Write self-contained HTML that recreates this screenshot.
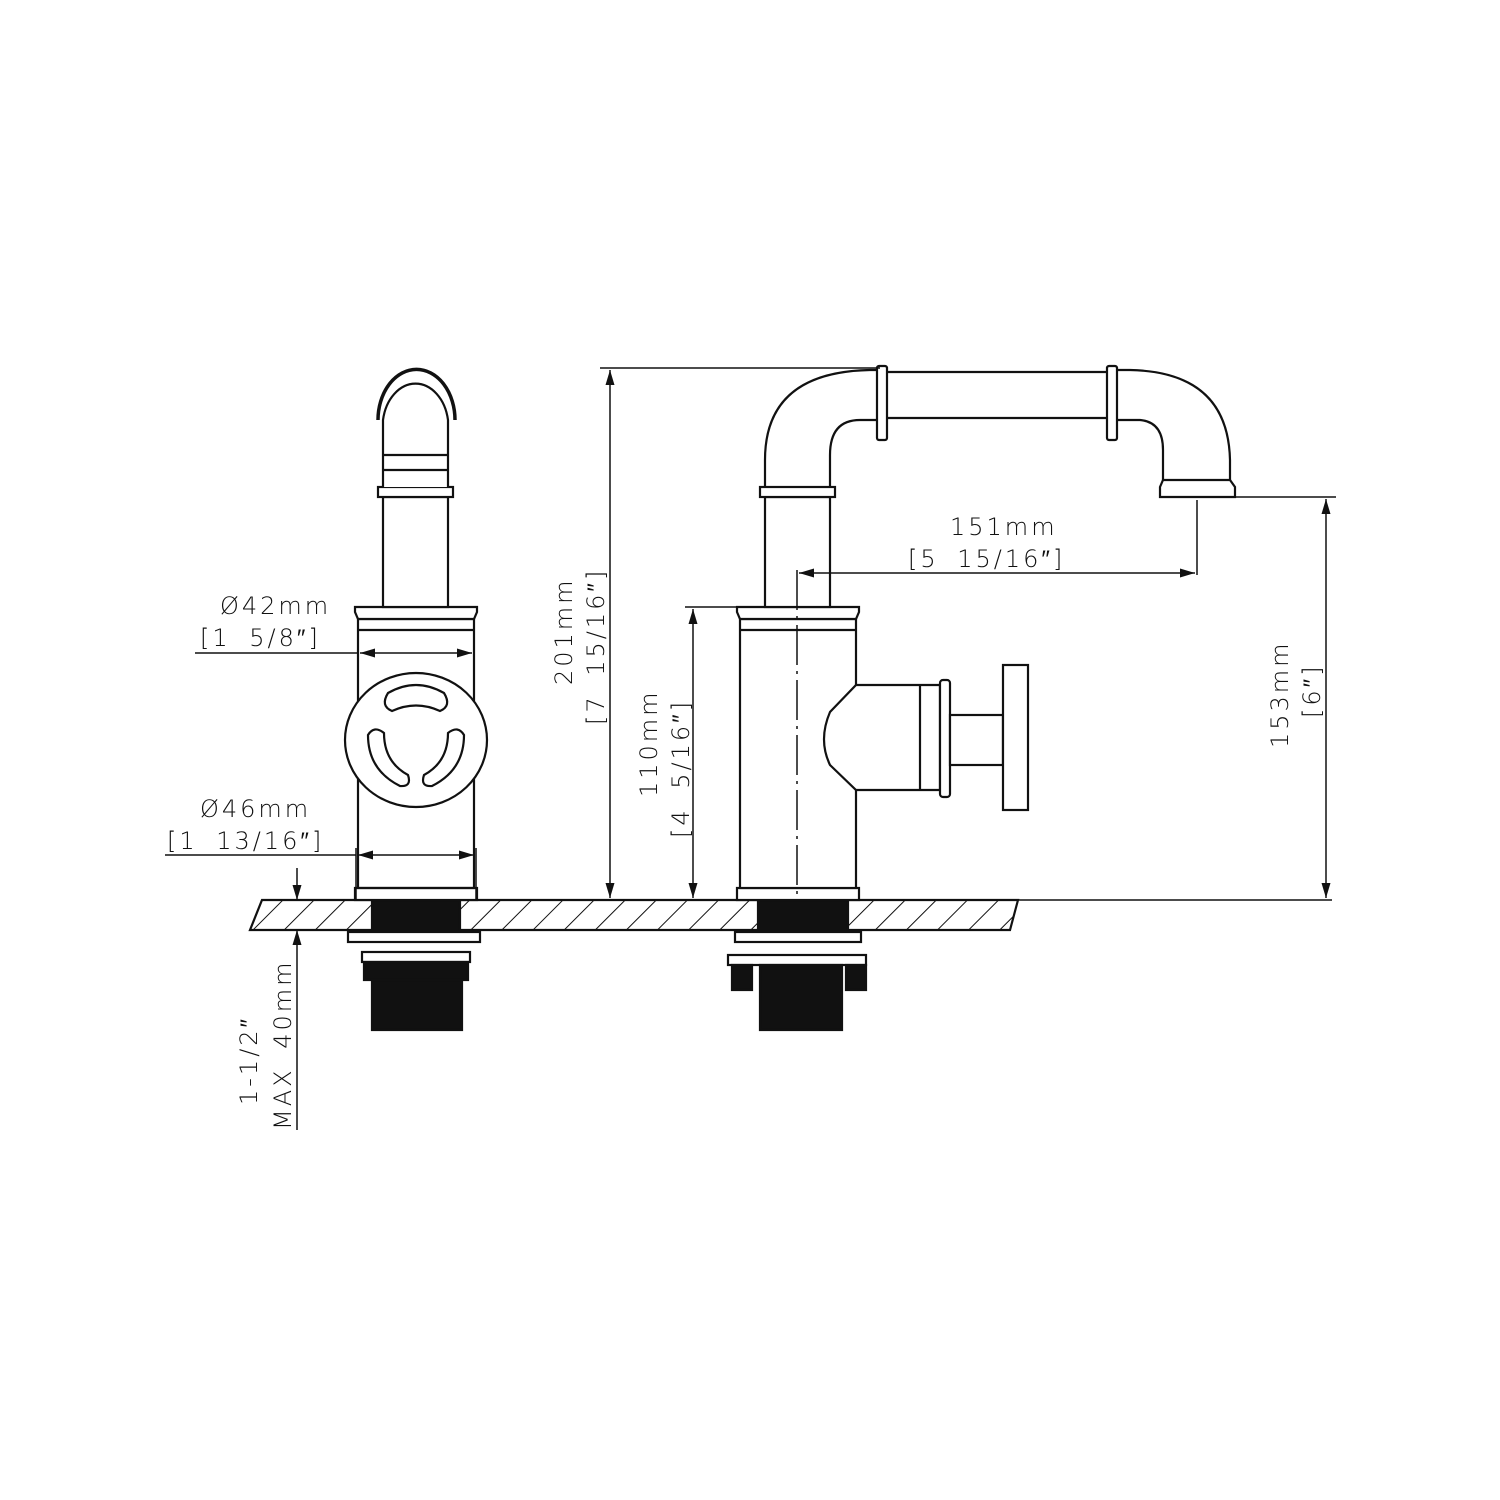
<!DOCTYPE html>
<html><head><meta charset="utf-8"><style>html,body{margin:0;padding:0;background:#fff}svg{display:block}text{font-family:"DejaVu Sans","Liberation Sans",sans-serif;font-size:24px;fill:#111;font-weight:300;white-space:pre}.w{letter-spacing:3px;word-spacing:8px}</style></head>
<body>
<svg width="1500" height="1500" viewBox="0 0 1500 1500" xmlns="http://www.w3.org/2000/svg">
<defs>
<pattern id="h" width="22" height="22" patternUnits="userSpaceOnUse" patternTransform="rotate(45)"><line x1="0" y1="0" x2="0" y2="22" stroke="#111" stroke-width="2"/></pattern>
<marker id="a" viewBox="0 0 10 6" refX="10" refY="3" markerWidth="10" markerHeight="6" orient="auto-start-reverse"><path d="M0,0L10,3L0,6z" fill="#111"/></marker>
</defs>
<g stroke="#111" stroke-width="2.2" fill="none">
<path d="M262,900 L1018,900 L1010,930 L250,930 Z" fill="url(#h)"/>
<line x1="1018" y1="900" x2="1332" y2="900" stroke-width="1.5"/>
<rect x="372" y="898" width="88" height="36" fill="#111"/>
<rect x="348" y="932" width="132" height="10" fill="#fff"/>
<rect x="362" y="952" width="108" height="10" fill="#fff"/>
<rect x="364" y="962" width="104" height="18" fill="#111"/>
<rect x="372" y="980" width="90" height="50" fill="#111"/>
<rect x="355" y="888" width="122" height="12" fill="#fff"/>
<rect x="358" y="619" width="116" height="269"/>
<path d="M355,607 L477,607 L477,612 L474,619 L358,619 L355,612 Z" fill="#fff"/>
<line x1="358" y1="630" x2="474" y2="630"/>
<rect x="383" y="497" width="65" height="110" fill="#fff"/>
<rect x="378" y="487" width="75" height="10" fill="#fff"/>
<path d="M383,487 L383,420 A33,44 0 0 1 448,420 L448,487" fill="#fff"/>
<path d="M378,420 A38,50 0 0 1 455,420" stroke-width="3.5"/>
<line x1="383" y1="455" x2="448" y2="455"/>
<line x1="383" y1="470" x2="448" y2="470"/>
<ellipse cx="416" cy="740" rx="71" ry="67" fill="#fff"/>
<path d="M388,693 Q416,677 444,693 Q452,706 440,711 Q416,700 392,711 Q380,706 388,693 Z"/>
<path d="M368,735 Q374,725 384,733 Q384,762 408,775 Q412,787 400,786 Q368,770 368,735 Z"/>
<path d="M464,735 Q458,725 448,733 Q448,762 424,775 Q420,787 432,786 Q464,770 464,735 Z"/>
<rect x="758" y="898" width="90" height="36" fill="#111"/>
<rect x="735" y="932" width="126" height="10" fill="#fff"/>
<rect x="728" y="955" width="138" height="10" fill="#fff"/>
<rect x="732" y="965" width="20" height="25" fill="#111"/>
<rect x="846" y="965" width="20" height="25" fill="#111"/>
<rect x="760" y="965" width="82" height="65" fill="#111"/>
<rect x="737" y="888" width="122" height="12" fill="#fff"/>
<rect x="740" y="619" width="116" height="269" fill="#fff"/>
<path d="M737,607 L859,607 L859,612 L856,619 L740,619 L737,612 Z" fill="#fff"/>
<line x1="740" y1="630" x2="856" y2="630"/>
<path d="M856,685 L940,685 L940,790 L856,790 L830,765 Q818,740 830,712 Z" fill="#fff"/>
<line x1="920" y1="685" x2="920" y2="790"/>
<rect x="940" y="680" width="10" height="117" rx="3" fill="#fff"/>
<rect x="950" y="715" width="53" height="50" fill="#fff"/>
<rect x="1003" y="665" width="25" height="145" fill="#fff"/>
<rect x="765" y="497" width="65" height="110" fill="#fff"/>
<rect x="760" y="487" width="75" height="10" fill="#fff"/>
<path d="M765,487 L765,460 Q765,372 870,370 L877,370 M830,487 L830,455 Q830,420 860,420 L877,420"/>
<rect x="877" y="366" width="10" height="74" rx="2" fill="#fff"/>
<line x1="887" y1="372" x2="1107" y2="372"/>
<line x1="887" y1="418" x2="1107" y2="418"/>
<rect x="1107" y="366" width="10" height="74" rx="2" fill="#fff"/>
<path d="M1117,370 L1130,370 Q1228,372 1230,460 L1230,480 M1117,420 L1140,420 Q1163,422 1163,450 L1163,480"/>
<path d="M1160,487 L1163,480 L1230,480 L1235,487 L1235,497 L1160,497 Z" fill="#fff"/>
</g>
<line x1="797" y1="570" x2="797" y2="898" stroke="#111" stroke-width="1.5" stroke-dasharray="40,6,3,6"/>
<g stroke="#111" stroke-width="1.5" fill="none">
<line x1="600" y1="368" x2="880" y2="368"/>
<line x1="610" y1="370" x2="610" y2="898" marker-start="url(#a)" marker-end="url(#a)"/>
<line x1="685" y1="607" x2="737" y2="607"/>
<line x1="693" y1="609" x2="693" y2="898" marker-start="url(#a)" marker-end="url(#a)"/>
<line x1="1235" y1="497" x2="1336" y2="497"/>
<line x1="1326" y1="499" x2="1326" y2="898" marker-start="url(#a)" marker-end="url(#a)"/>
<line x1="1197" y1="500" x2="1197" y2="575"/>
<line x1="799" y1="573" x2="1195" y2="573" marker-start="url(#a)" marker-end="url(#a)"/>
<line x1="195" y1="653" x2="358" y2="653"/>
<line x1="360" y1="653" x2="472" y2="653" marker-start="url(#a)" marker-end="url(#a)"/>
<line x1="165" y1="855" x2="356" y2="855"/>
<line x1="356" y1="848" x2="356" y2="900"/><line x1="476" y1="848" x2="476" y2="900"/>
<line x1="358" y1="855" x2="474" y2="855" marker-start="url(#a)" marker-end="url(#a)"/>
<line x1="297" y1="868" x2="297" y2="900" marker-end="url(#a)"/>
<line x1="297" y1="1130" x2="297" y2="930" marker-end="url(#a)"/>
</g>
<text x="950" y="535" class="w">151mm</text>
<text x="908" y="567" class="w">[5 15/16″]</text>
<text x="220" y="614" class="w">Ø42mm</text>
<text x="200" y="646" class="w">[1 5/8″]</text>
<text x="200" y="817" class="w">Ø46mm</text>
<text x="167" y="849" class="w">[1 13/16″]</text>
<text transform="translate(572,685) rotate(-90)" class="w">201mm</text>
<text transform="translate(604,725) rotate(-90)" class="w">[7 15/16″]</text>
<text transform="translate(657,797) rotate(-90)" class="w">110mm</text>
<text transform="translate(689,838) rotate(-90)" class="w">[4 5/16″]</text>
<text transform="translate(1288,748) rotate(-90)" class="w">153mm</text>
<text transform="translate(1320,718) rotate(-90)" class="w">[6″]</text>
<text transform="translate(257,1105) rotate(-90)" class="w">1-1/2″</text>
<text transform="translate(291,1130) rotate(-90)" class="w">MAX 40mm</text>
</svg>
</body></html>
